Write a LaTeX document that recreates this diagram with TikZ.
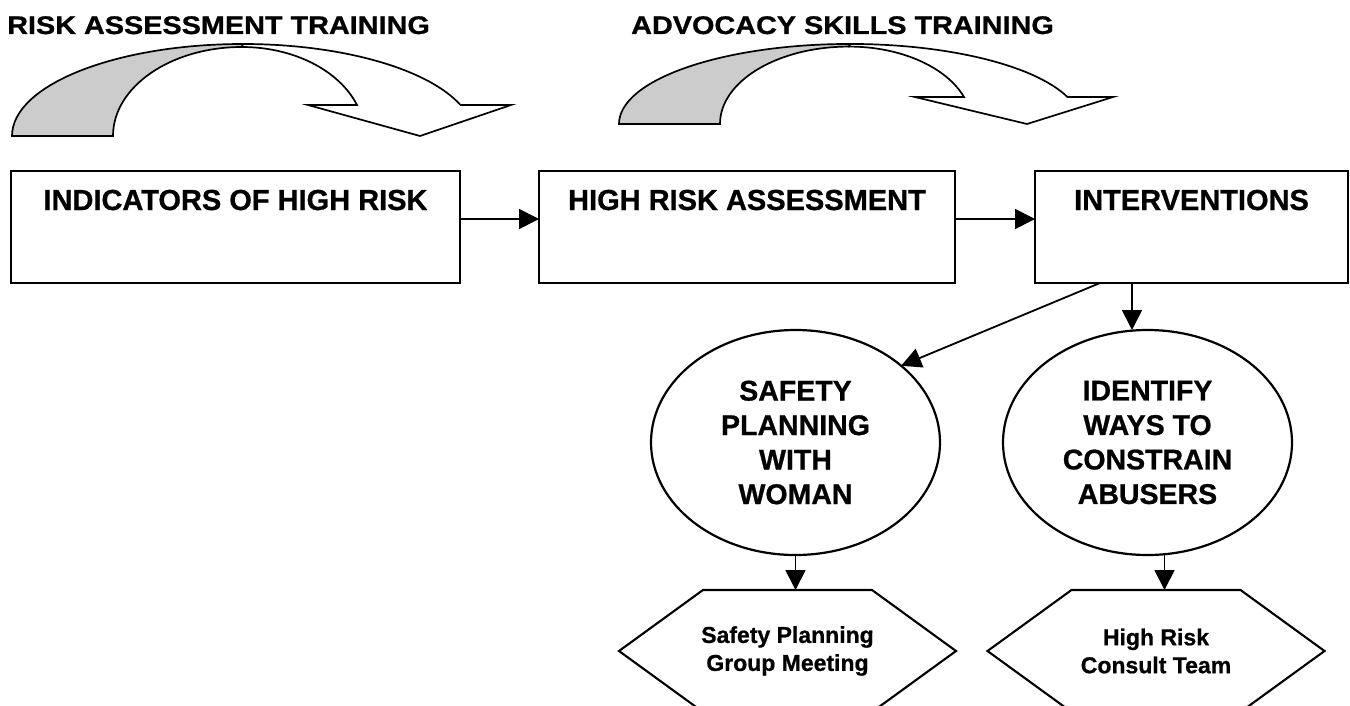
\documentclass[tikz,border=0pt]{standalone}
\usepackage{fontspec}
\setmainfont{Liberation Sans}[BoldFont={Liberation Sans Bold}]
\newfontfamily\labelfont{Liberation Sans Bold}[FakeBold=0.8]
\newfontfamily\headfont{Liberation Sans Bold}[FakeStretch=1.13,FakeBold=0.8]
\usetikzlibrary{arrows.meta,calc,shapes.geometric}
\definecolor{ribbongray}{RGB}{204,204,204}
\begin{document}
\begin{tikzpicture}[x=1pt,y=-1pt,line join=miter,
  headtext/.style={font=\headfont\fontsize{25.5}{30}\selectfont,inner sep=0pt,anchor=base west},
  stagebox/.style={draw,line width=2.1pt,rectangle,inner sep=0pt,outer sep=0pt,anchor=north west,minimum height=112pt},
  boxtext/.style={font=\labelfont\fontsize{29}{34}\selectfont,inner sep=0pt,anchor=base},
  oval/.style={draw,line width=2.2pt,ellipse,minimum width=289pt,minimum height=225pt,inner sep=0pt,outer sep=0pt,align=center,font=\labelfont\fontsize{28.5}{34.5}\selectfont},
  hexnode/.style={rectangle,minimum width=337pt,minimum height=122pt,inner sep=0pt,outer sep=0pt,align=center,font=\labelfont\fontsize{23}{28}\selectfont},
  hexline/.style={draw,line width=2.1pt},
  conn/.style={line width=1.8pt,-{Triangle[length=20pt,width=20pt]}},
  ribbon/.style={line width=1.7pt}]
\useasboundingbox (0,0) rectangle (1350,706);

% training headings
\node[headtext] (t1) at (7,34) {RISK ASSESSMENT TRAINING};
\node[headtext] (t2) at (631,34) {ADVOCACY SKILLS TRAINING};

% curved ribbon arrows under the headings
\begin{scope}[shift={(12,136)},yscale=-1]
  \filldraw[ribbon,fill=ribbongray] (0,0) arc[start angle=180,end angle=90,x radius=231,y radius=92]
    -- (230,89) arc[start angle=90,end angle=180,x radius=129,y radius=89] -- cycle;
  \filldraw[ribbon,fill=white] (231,92) arc[start angle=90,end angle=19.69,x radius=231,y radius=92]
    -- (499,31) -- (408,0) -- (296,31) -- (345,31)
    arc[start angle=20.39,end angle=90,x radius=122.7,y radius=89] -- cycle;
\end{scope}
\begin{scope}[shift={(619,124)},yscale=-0.87]
  \filldraw[ribbon,fill=ribbongray] (0,0) arc[start angle=180,end angle=90,x radius=231,y radius=92]
    -- (230,89) arc[start angle=90,end angle=180,x radius=129,y radius=89] -- cycle;
  \filldraw[ribbon,fill=white] (231,92) arc[start angle=90,end angle=19.69,x radius=231,y radius=92]
    -- (494,31) -- (408,0) -- (296,31) -- (345,31)
    arc[start angle=20.39,end angle=90,x radius=122.7,y radius=89] -- cycle;
\end{scope}

% stage boxes
\node[stagebox,minimum width=449pt] (b1) at (11,171) {};
\node[stagebox,minimum width=416pt] (b2) at (539,171) {};
\node[stagebox,minimum width=313pt] (b3) at (1035,171) {};
\node[boxtext] (l1) at ($(b1.north)+(0,39)$) {INDICATORS OF HIGH RISK};
\node[boxtext] (l2) at ($(b2.north)+(0,39)$) {HIGH RISK ASSESSMENT};
\node[boxtext] (l3) at ($(b3.north)+(0,39)$) {INTERVENTIONS};

\draw[conn] ($(b1.east)+(0,-8)$) -- ($(b2.west)+(0,-8)$);
\draw[conn] ($(b2.east)+(0,-8)$) -- ($(b3.west)+(0,-8)$);

% intervention ovals
\node[oval] (c1) at (795.5,442.5) {SAFETY\\PLANNING\\WITH\\WOMAN};
\node[oval] (c2) at (1147.5,442.5) {IDENTIFY\\WAYS TO\\CONSTRAIN\\ABUSERS};

\coordinate (d0) at ($(b3.south west)+(65,0)$);
\coordinate (v0) at ($(b3.south west)+(97,0)$);
\draw[conn] (d0) -- (c1.36);
\draw[conn] (v0) -- (v0 |- c2.north);

% follow-up hexagons
\node[hexnode] (h1) at (787.5,651) {Safety Planning\\Group Meeting};
\node[hexnode] (h2) at (1156,651) {High Risk\\Consult Team};
\foreach \h in {h1,h2}{
  \draw[hexline] (\h.west) -- ([xshift=84pt]\h.north west) -- ([xshift=-84pt]\h.north east)
    -- (\h.east) -- ([xshift=-84pt]\h.south east) -- ([xshift=84pt]\h.south west) -- cycle;
}

\coordinate (a2) at ($(c2.south)+(17,0)$);
\draw[conn] (c1.south) -- (c1.south |- h1.north);
\draw[conn] (a2) -- (a2 |- h2.north);
\end{tikzpicture}
\end{document}
